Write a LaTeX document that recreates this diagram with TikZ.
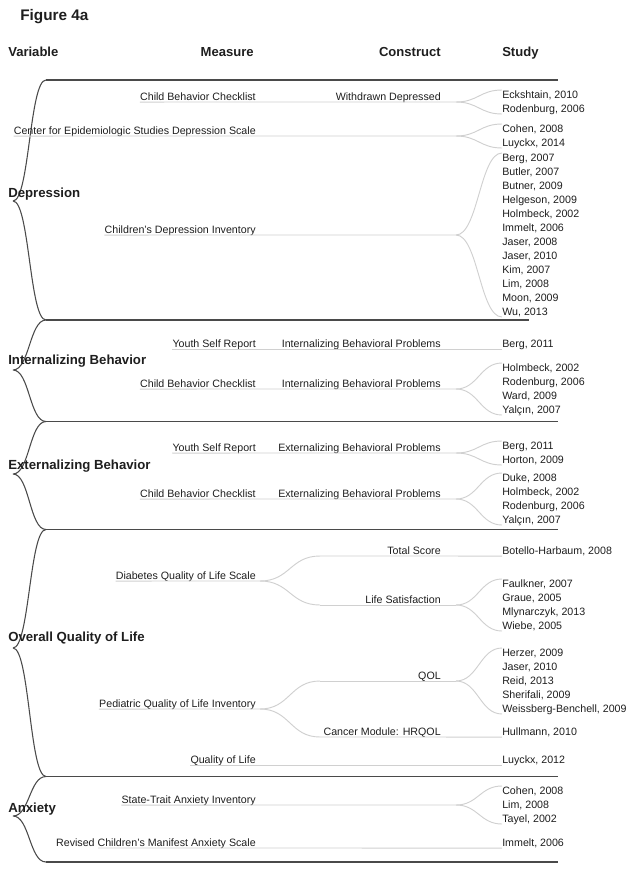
\documentclass[tikz,border=0pt]{standalone}
\usepackage{fontspec}
\setmainfont{Liberation Sans}
\usepackage{xcolor}
\usepackage{tikz}
\usetikzlibrary{calc}
\definecolor{figInk}{HTML}{1E1E1E}
\definecolor{figRule}{HTML}{4A4A4A}
\definecolor{figLink}{HTML}{D0D0D0}
\tikzset{
  figure title/.style={font=\fontsize{11.5}{13}\selectfont\bfseries,text=figInk,inner sep=0pt,anchor=base west},
  column head/.style={font=\fontsize{9.8}{11}\selectfont\bfseries,text=figInk,inner sep=0pt},
  variable label/.style={font=\fontsize{9.9}{11}\selectfont\bfseries,text=figInk,inner sep=0pt,anchor=base west},
  measure label/.style={font=\fontsize{8}{9.6}\selectfont,text=figInk,inner sep=0pt,anchor=base east},
  construct label/.style={measure label},
  study label/.style={font=\fontsize{8}{9.6}\selectfont,text=figInk,inner sep=0pt,anchor=base west},
  rule line/.style={draw=figRule,line width=0.8pt},
  tree link/.style={draw=figLink,line width=0.7pt},
  fan/.style={to path={.. controls +(#1,0) and +(-#1,0) .. (\tikztotarget) \tikztonodes}},
  fan/.default=22
}

\begin{document}
\begin{tikzpicture}[x=0.75pt,y=-0.75pt]
\useasboundingbox (0,0) rectangle (635,871);
\node[figure title] (title) at (20,20.5) {Figure 4a};
\node[column head,anchor=base west] (h-var) at (8,56.5) {Variable};
\node[column head,anchor=base east] (h-mea) at (254,56.5) {Measure};
\node[column head,anchor=base east] (h-con) at (441,56.5) {Construct};
\node[column head,anchor=base west] (h-stu) at (502,56.5) {Study};

% separators and variable braces
\coordinate (s0) at (46,80);      \coordinate (s0-end) at (558,80);
\coordinate (s1) at (46,320);     \coordinate (s1-end) at (529,320);
\coordinate (s2) at (46,421.5);   \coordinate (s2-end) at (558,421.5);
\coordinate (s3) at (46,529.5);   \coordinate (s3-end) at (558,529.5);
\coordinate (s4) at (46,776.5);   \coordinate (s4-end) at (558,776.5);
\coordinate (s5) at (46,862);     \coordinate (s5-end) at (558,862);
\foreach \a in {0,...,5}
  \draw[rule line] (s\a) -- (s\a-end);
\coordinate (dep-tip) at (13,201);
\coordinate (int-tip) at (13,370);
\coordinate (ext-tip) at (13,474);
\coordinate (qol-tip) at (13,648);
\coordinate (anx-tip) at (13,816);
\draw[rule line] (dep-tip) to[fan=16.5] (s0) (dep-tip) to[fan=16.5] (s1);
\draw[rule line] (int-tip) to[fan=16.5] (s1) (int-tip) to[fan=16.5] (s2);
\draw[rule line] (ext-tip) to[fan=16.5] (s2) (ext-tip) to[fan=16.5] (s3);
\draw[rule line] (qol-tip) to[fan=16.5] (s3) (qol-tip) to[fan=16.5] (s4);
\draw[rule line] (anx-tip) to[fan=16.5] (s4) (anx-tip) to[fan=16.5] (s5);
\node[variable label] (dep) at (8,197.5) {Depression};
\node[variable label] (int) at (8,364.5) {Internalizing Behavior};
\node[variable label] (ext) at (8,469.5) {Externalizing Behavior};
\node[variable label] (qol) at (8,641.5) {Overall Quality of Life};
\node[variable label] (anx) at (8,812.5) {Anxiety};

% Depression
\node[measure label] (dep-cbcl) at (256,100.7) {Child Behavior Checklist};
\node[construct label] (dep-wd) at (441,100.7) {Withdrawn Depressed};
\coordinate (dep-cbcl-tip) at (456,102);
\draw[tree link] ([yshift=-1pt]dep-cbcl.base west) -- (dep-cbcl-tip);
\foreach \s [count=\i] in {{Eckshtain, 2010},{Rodenburg, 2006}}
  \node[study label] (dep-cbcl-\i) at (502,{102+(\i-1.5)*14+3.8}) {\s};
\draw[tree link] (dep-cbcl-tip) to[fan] ([yshift=6.6pt]dep-cbcl-1.base west);
\draw[tree link] (dep-cbcl-tip) to[fan] ([yshift=-0.9pt]dep-cbcl-2.base west);

\node[measure label] (dep-cesd) at (256,134.7) {Center for Epidemiologic Studies Depression Scale};
\coordinate (dep-cesd-tip) at (456,136);
\draw[tree link] ([yshift=-1pt]dep-cesd.base west) -- (dep-cesd-tip);
\foreach \s [count=\i] in {{Cohen, 2008},{Luyckx, 2014}}
  \node[study label] (dep-cesd-\i) at (502,{136+(\i-1.5)*14+3.8}) {\s};
\draw[tree link] (dep-cesd-tip) to[fan] ([yshift=6.6pt]dep-cesd-1.base west);
\draw[tree link] (dep-cesd-tip) to[fan] ([yshift=-0.9pt]dep-cesd-2.base west);

\node[measure label] (dep-cdi) at (256,233.7) {Children’s Depression Inventory};
\coordinate (dep-cdi-tip) at (456,235);
\draw[tree link] ([yshift=-1pt]dep-cdi.base west) -- (dep-cdi-tip);
\foreach \s [count=\i] in {{Berg, 2007},{Butler, 2007},{Butner, 2009},{Helgeson, 2009},
    {Holmbeck, 2002},{Immelt, 2006},{Jaser, 2008},{Jaser, 2010},{Kim, 2007},
    {Lim, 2008},{Moon, 2009},{Wu, 2013}}
  \node[study label] (dep-cdi-\i) at (502,{235+(\i-6.5)*14+3.8}) {\s};
\draw[tree link] (dep-cdi-tip) to[fan] ([yshift=6.6pt]dep-cdi-1.base west);
\draw[tree link] (dep-cdi-tip) to[fan] ([yshift=-0.9pt]dep-cdi-12.base west);

% Internalizing Behavior
\node[measure label] (int-ysr) at (256,347.7) {Youth Self Report};
\node[construct label] (int-ysr-c) at (441,347.7) {Internalizing Behavioral Problems};
\node[study label] (int-ysr-1) at (502,347.7) {Berg, 2011};
\draw[tree link] ([yshift=-1pt]int-ysr.base west) -- ([yshift=-1pt]int-ysr-1.base west);

\node[measure label] (int-cbcl) at (256,387.7) {Child Behavior Checklist};
\node[construct label] (int-cbcl-c) at (441,387.7) {Internalizing Behavioral Problems};
\coordinate (int-cbcl-tip) at (456,389);
\draw[tree link] ([yshift=-1pt]int-cbcl.base west) -- (int-cbcl-tip);
\foreach \s [count=\i] in {{Holmbeck, 2002},{Rodenburg, 2006},{Ward, 2009},{Yalçın, 2007}}
  \node[study label] (int-cbcl-\i) at (502,{389+(\i-2.5)*14+3.8}) {\s};
\draw[tree link] (int-cbcl-tip) to[fan] ([yshift=6.6pt]int-cbcl-1.base west);
\draw[tree link] (int-cbcl-tip) to[fan] ([yshift=-0.9pt]int-cbcl-4.base west);

% Externalizing Behavior
\node[measure label] (ext-ysr) at (256,451.7) {Youth Self Report};
\node[construct label] (ext-ysr-c) at (441,451.7) {Externalizing Behavioral Problems};
\coordinate (ext-ysr-tip) at (456,453);
\draw[tree link] ([yshift=-1pt]ext-ysr.base west) -- (ext-ysr-tip);
\foreach \s [count=\i] in {{Berg, 2011},{Horton, 2009}}
  \node[study label] (ext-ysr-\i) at (502,{453+(\i-1.5)*14+3.8}) {\s};
\draw[tree link] (ext-ysr-tip) to[fan] ([yshift=6.6pt]ext-ysr-1.base west);
\draw[tree link] (ext-ysr-tip) to[fan] ([yshift=-0.9pt]ext-ysr-2.base west);

\node[measure label] (ext-cbcl) at (256,497.7) {Child Behavior Checklist};
\node[construct label] (ext-cbcl-c) at (441,497.7) {Externalizing Behavioral Problems};
\coordinate (ext-cbcl-tip) at (456,499);
\draw[tree link] ([yshift=-1pt]ext-cbcl.base west) -- (ext-cbcl-tip);
\foreach \s [count=\i] in {{Duke, 2008},{Holmbeck, 2002},{Rodenburg, 2006},{Yalçın, 2007}}
  \node[study label] (ext-cbcl-\i) at (502,{499+(\i-2.5)*14+3.8}) {\s};
\draw[tree link] (ext-cbcl-tip) to[fan] ([yshift=6.6pt]ext-cbcl-1.base west);
\draw[tree link] (ext-cbcl-tip) to[fan] ([yshift=-0.9pt]ext-cbcl-4.base west);

% Overall Quality of Life
\node[measure label] (qol-dqol) at (256,579.7) {Diabetes Quality of Life Scale};
\coordinate (qol-dqol-tip) at (260,581);
\coordinate (qol-tot-start) at (320,556);
\coordinate (qol-ls-start) at (320,605);
\draw[tree link] ([yshift=-1pt]qol-dqol.base west) -- (qol-dqol-tip);
\draw[tree link] (qol-dqol-tip) to[fan=30] (qol-tot-start);
\draw[tree link] (qol-dqol-tip) to[fan=30] (qol-ls-start);
\node[construct label] (qol-tot) at (441,554.7) {Total Score};
\node[study label] (qol-tot-1) at (502,554.7) {Botello-Harbaum, 2008};
\draw[tree link] (qol-tot-start) -- ([yshift=-1pt]qol-tot-1.base west);
\node[construct label] (qol-ls) at (441,603.7) {Life Satisfaction};
\coordinate (qol-ls-tip) at (456,605);
\draw[tree link] (qol-ls-start) -- (qol-ls-tip);
\foreach \s [count=\i] in {{Faulkner, 2007},{Graue, 2005},{Mlynarczyk, 2013},{Wiebe, 2005}}
  \node[study label] (qol-ls-\i) at (502,{605+(\i-2.5)*14+3.8}) {\s};
\draw[tree link] (qol-ls-tip) to[fan] ([yshift=6.6pt]qol-ls-1.base west);
\draw[tree link] (qol-ls-tip) to[fan] ([yshift=-0.9pt]qol-ls-4.base west);

\node[measure label] (qol-pqli) at (256,707.7) {Pediatric Quality of Life Inventory};
\coordinate (qol-pqli-tip) at (260,709);
\coordinate (qol-qol-start) at (320,681);
\coordinate (qol-cm-start) at (320,737);
\draw[tree link] ([yshift=-1pt]qol-pqli.base west) -- (qol-pqli-tip);
\draw[tree link] (qol-pqli-tip) to[fan=30] (qol-qol-start);
\draw[tree link] (qol-pqli-tip) to[fan=30] (qol-cm-start);
\node[construct label] (qol-qol) at (441,679.7) {QOL};
\coordinate (qol-qol-tip) at (456,681);
\draw[tree link] (qol-qol-start) -- (qol-qol-tip);
\foreach \s [count=\i] in {{Herzer, 2009},{Jaser, 2010},{Reid, 2013},{Sherifali, 2009},{Weissberg-Benchell, 2009}}
  \node[study label] (qol-qol-\i) at (502,{681+(\i-3)*14+3.8}) {\s};
\draw[tree link] (qol-qol-tip) to[fan] ([yshift=6.6pt]qol-qol-1.base west);
\draw[tree link] (qol-qol-tip) to[fan] ([yshift=-0.9pt]qol-qol-5.base west);
\node[construct label] (qol-cm) at (441,735.7) {Cancer Module: HRQOL};
\node[study label] (qol-cm-1) at (502,735.7) {Hullmann, 2010};
\draw[tree link] (qol-cm-start) -- ([yshift=-1pt]qol-cm-1.base west);

\node[measure label] (qol-ql) at (256,763.7) {Quality of Life};
\node[study label] (qol-ql-1) at (502,763.7) {Luyckx, 2012};
\draw[tree link] ([yshift=-1pt]qol-ql.base west) -- ([yshift=-1pt]qol-ql-1.base west);

% Anxiety
\node[measure label] (anx-stai) at (256,803.7) {State-Trait Anxiety Inventory};
\coordinate (anx-stai-tip) at (456,805);
\draw[tree link] ([yshift=-1pt]anx-stai.base west) -- (anx-stai-tip);
\foreach \s [count=\i] in {{Cohen, 2008},{Lim, 2008},{Tayel, 2002}}
  \node[study label] (anx-stai-\i) at (502,{805+(\i-2)*14+3.8}) {\s};
\draw[tree link] (anx-stai-tip) to[fan] ([yshift=6.6pt]anx-stai-1.base west);
\draw[tree link] (anx-stai-tip) to[fan] ([yshift=-0.9pt]anx-stai-3.base west);

\node[measure label] (anx-rcmas) at (256,846.7) {Revised Children’s Manifest Anxiety Scale};
\coordinate (anx-rcmas-start) at (98,848);
\node[study label] (anx-rcmas-1) at (502,846.7) {Immelt, 2006};
\draw[tree link] (anx-rcmas-start) -- ([yshift=-1pt]anx-rcmas-1.base west);
\end{tikzpicture}
\end{document}
